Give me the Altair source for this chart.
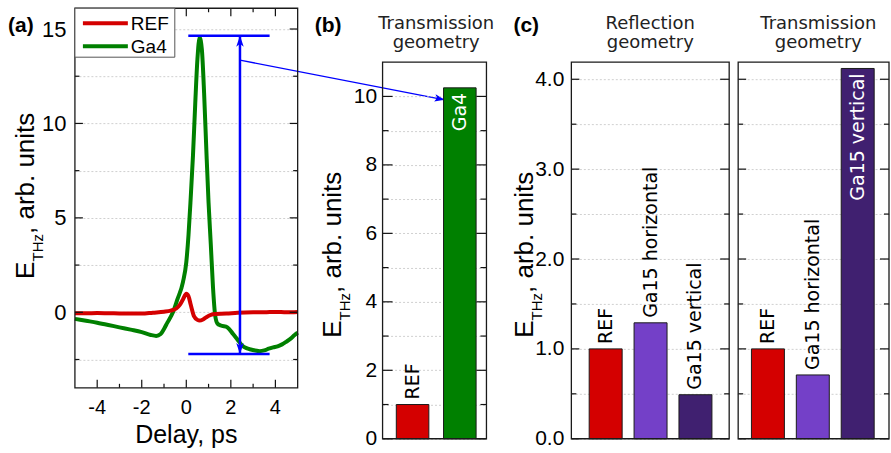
import math
import altair as alt
import pandas as pd

# ---------------- data ----------------
series_names = ["REF", "Ga4"]
series_colors = ["#d40000", "#008000"]

ref_delay = [-5.0, -4.5, -4.0, -3.5, -3.0, -2.5, -2.0, -1.5, -1.0, -0.7, -0.45, -0.3, -0.15,
             0.0, 0.1, 0.2, 0.35, 0.5, 0.6, 0.75, 0.9, 1.1, 1.3, 1.8, 2.3, 3.0, 3.5, 4.0, 4.5, 5.0]
ref_field = [-0.05, -0.05, -0.04, -0.05, -0.06, -0.07, -0.07, -0.02, 0.03, 0.09, 0.2, 0.38, 0.68,
             0.98, 0.85, 0.4, -0.22, -0.4, -0.44, -0.38, -0.26, -0.14, -0.09, -0.07, -0.02, 0.0, 0.0, 0.02, 0.0, 0.02]

ga4_delay = [-5.0, -4.5, -4.0, -3.5, -3.0, -2.5, -2.0, -1.6, -1.35, -1.15, -1.0, -0.85, -0.6, -0.4, -0.15,
             0.0, 0.1, 0.2, 0.3, 0.4, 0.5, 0.6, 0.7, 0.8, 0.9, 1.0, 1.1, 1.2, 1.3, 1.4, 1.55, 1.85,
             2.1, 2.3, 2.5, 2.7, 2.9, 3.1, 3.3, 3.5, 3.7, 3.9, 4.1, 4.3, 4.5, 4.7, 4.85, 5.0]
ga4_field = [-0.35, -0.45, -0.55, -0.67, -0.8, -0.92, -1.05, -1.2, -1.25, -1.15, -0.88, -0.55, 0.0, 0.68, 1.6,
             2.65, 4.1, 6.1, 8.3, 11.0, 13.4, 14.55, 13.9, 11.6, 8.6, 5.8, 3.6, 1.3, -0.2, -0.6, -0.7, -0.8,
             -1.15, -1.45, -1.75, -1.9, -1.97, -2.02, -2.06, -2.02, -1.93, -1.86, -1.8, -1.7, -1.55, -1.38, -1.22, -1.08]

# peak-to-peak bracket and connector in panel (a)
bracket_top = 14.64
bracket_bottom = -2.21
bracket_from = 0.09
bracket_to = 3.74
bracket_arrow_at = 2.41
connector_start = [2.41, 13.35]
connector_end = [11.6, 11.25]

b_categories = ["REF", "Ga4"]
b_values = [1.0, 10.25]
b_colors = ["#d40000", "#008000"]

c_groups = ["Reflection", "Transmission"]
c_categories = ["REF", "Ga15 horizontal", "Ga15 vertical"]
c_colors = ["#d40000", "#7440c8", "#402070"]
c_reflection = [1.0, 1.29, 0.49]
c_transmission = [1.0, 0.71, 4.12]

a_y_major = [0, 5, 10, 15]
a_y_minor = [-2.5, 2.5, 7.5, 12.5]
a_x_major = [-4, -2, 0, 2, 4]
a_x_minor = [-3, -1, 1, 3]
b_y_major = [0, 2, 4, 6, 8, 10]
b_y_minor = [1, 3, 5, 7, 9]
c_y_major = [0, 1, 2, 3, 4]
c_y_minor = [0.5, 1.5, 2.5, 3.5]

# ---------------- style / layout ----------------
NUM = "Liberation Sans"
TXT = "DejaVu Sans"
BLUE = "#0000ff"
TICK = "#111111"
FRAME = "#1a1a1a"
TOP = 54                      # vertical offset of panels (b), (c)
VIEW_H = TOP + 377            # common view height of all panels
A_W, A_H = 223, 380
B_W = 104
C1_W, C_GAP, C2_W = 158, 9, 151
C_W = C1_W + C_GAP + C2_W
C_STEP = 46.4                 # px between bar centres in (c)
C_FIRST = 30.3                # px from frame to first bar centre

ONE = pd.DataFrame({"k": [0]})

UP_HEAD = "M0,0L0.75,2.2L0,1.6L-0.75,2.2Z"
DOWN_HEAD = "M0,0L0.75,-2.2L0,-1.6L-0.75,-2.2Z"
RIGHT_HEAD = "M0,0L-2,-0.75L-1.6,0L-2,0.75Z"


def text(txt, x, y, size, font=NUM, weight="normal", angle=0, align="left",
         baseline="alphabetic", color="black", line_height=None):
    kw = dict(text=txt, font=font, fontSize=size, fontWeight=weight, angle=angle,
              align=align, baseline=baseline, color=color)
    if line_height:
        kw["lineHeight"] = line_height
    return alt.Chart(ONE).mark_text(**kw).encode(x=alt.value(x), y=alt.value(y))


def ytitle(x, y_start):
    return [
        text("E", x, y_start, 26, angle=270),
        text("THz", x + 9, y_start - 17.5, 15, angle=270),
        text(", arb. units", x, y_start - 45, 26, angle=270),
    ]


def frame(x0, x1, y0, y1):
    return alt.Chart(ONE).mark_rect(fill="white", fillOpacity=0, stroke=FRAME,
                                    strokeWidth=1.3).encode(
        x=alt.value(x0), x2=alt.value(x1), y=alt.value(y0), y2=alt.value(y1))


def label_axis(values, major, size, pad):
    arr = "[" + ",".join(str(v) for v in major) + "]"
    return alt.Axis(orient="left", values=values, title=None, domain=False, ticks=False,
                    tickSize=0, labels=True, grid=True, labelFont=NUM, labelFontSize=size,
                    labelColor="black", labelPadding=pad, labelFlush=False, labelOverlap=False,
                    labelExpr=f"indexof({arr}, datum.value) >= 0 ? datum.label : ''",
                    gridColor="#c4c4c4", gridDash=[2, 2], gridWidth=0.8)


def yticks(values, scale, x0, x1):
    df = pd.DataFrame({"val": values})
    return alt.Chart(df).mark_rule(color=TICK, strokeWidth=1.2).encode(
        y=alt.Y("val:Q", scale=scale, axis=None), x=alt.value(x0), x2=alt.value(x1))


def xticks(values, scale, y0, y1):
    df = pd.DataFrame({"t": values})
    return alt.Chart(df).mark_rule(color=TICK, strokeWidth=1.2).encode(
        x=alt.X("t:Q", scale=scale, axis=None), y=alt.value(y0), y2=alt.value(y1))


# ---------------- panel (a) ----------------
XA = alt.Scale(domain=[-5, 5], nice=False, zero=False)
YA = alt.Scale(domain=[-4, 16.1], range=[A_H, 0], nice=False, zero=False)

a_layers = [
    alt.Chart(pd.DataFrame({"v": [0.0]})).mark_point(opacity=0).encode(
        y=alt.Y("v:Q", scale=YA, axis=label_axis(sorted(a_y_major + a_y_minor), a_y_major, 22, 9))),
]

color_a = alt.Scale(domain=series_names, range=series_colors)


def curve(delay, field, name):
    df = pd.DataFrame({"t": delay, "v": field, "s": name})
    return alt.Chart(df).mark_line(strokeWidth=4, interpolate="monotone").encode(
        x=alt.X("t:Q", scale=XA, axis=None),
        y=alt.Y("v:Q", scale=YA, axis=None),
        color=alt.Color("s:N", scale=color_a, legend=None))


a_layers.append(curve(ga4_delay, ga4_field, series_names[1]))
a_layers.append(curve(ref_delay, ref_field, series_names[0]))

seg_rows = [
    {"seg": "top", "t": bracket_from, "v": bracket_top},
    {"seg": "top", "t": bracket_to, "v": bracket_top},
    {"seg": "bottom", "t": bracket_from, "v": bracket_bottom},
    {"seg": "bottom", "t": bracket_to, "v": bracket_bottom},
    {"seg": "vert", "t": bracket_arrow_at, "v": bracket_bottom},
    {"seg": "vert", "t": bracket_arrow_at, "v": bracket_top},
]
a_layers.append(alt.Chart(pd.DataFrame(seg_rows)).mark_line(color=BLUE, strokeWidth=2.5).encode(
    x=alt.X("t:Q", scale=XA, axis=None), y=alt.Y("v:Q", scale=YA, axis=None),
    detail="seg:N"))

for yv, shp in [(bracket_top, UP_HEAD), (bracket_bottom, DOWN_HEAD)]:
    dfh = pd.DataFrame({"t": [bracket_arrow_at], "v": [yv]})
    a_layers.append(alt.Chart(dfh).mark_point(shape=shp, size=100, filled=True, color=BLUE,
                                              opacity=1, strokeWidth=0).encode(
        x=alt.X("t:Q", scale=XA, axis=None), y=alt.Y("v:Q", scale=YA, axis=None)))

df_conn = pd.DataFrame({"t": [connector_start[0], connector_end[0]],
                        "v": [connector_start[1], connector_end[1]]})
a_layers.append(alt.Chart(df_conn).mark_line(color=BLUE, strokeWidth=1.3).encode(
    x=alt.X("t:Q", scale=XA, axis=None), y=alt.Y("v:Q", scale=YA, axis=None)))
px_x = A_W / 10.0
px_y = A_H / 20.1
conn_angle = math.degrees(math.atan2((connector_start[1] - connector_end[1]) * px_y,
                                     (connector_end[0] - connector_start[0]) * px_x))
df_tip = pd.DataFrame({"t": [connector_end[0]], "v": [connector_end[1]]})
a_layers.append(alt.Chart(df_tip).mark_point(shape=RIGHT_HEAD, angle=conn_angle, size=100,
                                             filled=True, color=BLUE, opacity=1,
                                             strokeWidth=0).encode(
    x=alt.X("t:Q", scale=XA, axis=None), y=alt.Y("v:Q", scale=YA, axis=None)))

# inward ticks on all four sides
a_layers += [
    yticks(a_y_major, YA, 0, 8), yticks(a_y_minor, YA, 0, 4.5),
    yticks(a_y_major, YA, A_W - 8, A_W), yticks(a_y_minor, YA, A_W - 4.5, A_W),
    xticks(a_x_major, XA, A_H - 8, A_H), xticks(a_x_minor, XA, A_H - 4, A_H),
    xticks(a_x_major, XA, 0, 8), xticks(a_x_minor, XA, 0, 4),
]
# x tick labels
a_layers.append(alt.Chart(pd.DataFrame({"t": a_x_major, "lab": [str(v) for v in a_x_major]}))
                .mark_text(font=NUM, fontSize=20, align="center", baseline="top", color="black")
                .encode(x=alt.X("t:Q", scale=XA, axis=None), y=alt.value(A_H + 10), text="lab:N"))
a_layers.append(frame(0, A_W, 0, A_H))

# legend (boxed key)
a_layers.append(alt.Chart(ONE).mark_rect(fill="white", stroke="#555555", strokeWidth=1).encode(
    x=alt.value(0), x2=alt.value(100), y=alt.value(0), y2=alt.value(49)))
for i, (nm, colr) in enumerate(zip(series_names, series_colors)):
    a_layers.append(alt.Chart(ONE).mark_rule(color=colr, strokeWidth=4).encode(
        x=alt.value(8), x2=alt.value(53), y=alt.value(15 + 23 * i)))
    a_layers.append(text(nm, 56, 22 + 23 * i, 19))

a_layers.append(text("Delay, ps", A_W / 2, 435, 25, align="center"))
a_layers.append(text("(a)", -67, 24, 21, weight="bold"))
a_layers += ytitle(-41, 271)

panel_a = alt.layer(*a_layers).properties(width=A_W, height=VIEW_H).resolve_axis(y="independent")

# ---------------- panel (b) ----------------
YB = alt.Scale(domain=[0, 11], range=[VIEW_H, TOP], nice=False, zero=True)
XB = alt.Scale(domain=b_categories, paddingInner=0.311, paddingOuter=0.255, align=0.57)
df_b = pd.DataFrame({"bcat": b_categories, "val": b_values})

b_layers = [
    alt.Chart(pd.DataFrame({"val": [0.0]})).mark_point(opacity=0).encode(
        y=alt.Y("val:Q", scale=YB, axis=label_axis(sorted(b_y_major + b_y_minor), b_y_major, 21, 6))),
]
bx = alt.X("bcat:N", scale=XB, axis=None)
by = alt.Y("val:Q", scale=YB, axis=None)
b_thr = 0.8 * 11
b_layers.append(alt.Chart(df_b).mark_bar(stroke=FRAME, strokeWidth=1).encode(
    x=bx, y=by,
    color=alt.Color("bcat:N", scale=alt.Scale(domain=b_categories, range=b_colors), legend=None)))
b_layers.append(alt.Chart(df_b).transform_filter(f"datum.val <= {b_thr}").mark_text(
    angle=270, align="left", baseline="middle", dx=5, font=TXT, fontSize=19,
    color="black").encode(x=bx, y=by, text="bcat:N"))
b_layers.append(alt.Chart(df_b).transform_filter(f"datum.val > {b_thr}").mark_text(
    angle=270, align="right", baseline="middle", dx=-5, font=TXT, fontSize=19,
    color="white").encode(x=bx, y=by, text="bcat:N"))
b_layers += [
    yticks(b_y_major, YB, 0, 10), yticks(b_y_minor, YB, 0, 6),
    yticks(b_y_major, YB, B_W - 10, B_W), yticks(b_y_minor, YB, B_W - 6, B_W),
]
b_layers.append(frame(0, B_W, TOP, VIEW_H))
b_layers.append(text(["Transmission", "geometry"], 53.7, TOP - 33, 18, font=TXT,
                     align="center", color="#222222", line_height=19))
b_layers.append(text("(b)", -68, TOP - 30, 21, weight="bold"))
b_layers += ytitle(-41.3, TOP + 276)

panel_b = alt.layer(*b_layers).properties(width=B_W, height=VIEW_H).resolve_axis(y="independent")

# ---------------- panel (c) ----------------
c_rows = []
for g, vals in zip(c_groups, [c_reflection, c_transmission]):
    for i, (cat, v) in enumerate(zip(c_categories, vals)):
        c_rows.append({"geometry": g, "ccat": cat, "idx": i, "val": v})
df_c = pd.DataFrame(c_rows)

g_shift = (C1_W + C_GAP + 31 - C_FIRST) / C_STEP
x_lo = -C_FIRST / C_STEP
XC = alt.Scale(domain=[x_lo, x_lo + C_W / C_STEP], nice=False, zero=False)
YC = alt.Scale(domain=[0, 4.19], range=[VIEW_H, TOP], nice=False, zero=True)

c_layers = [
    alt.Chart(pd.DataFrame({"val": [0.0]})).mark_point(opacity=0).encode(
        y=alt.Y("val:Q", scale=YC, axis=label_axis(sorted(c_y_major + c_y_minor), c_y_major, 21, 7.5))),
]
c_base = alt.Chart(df_c).transform_calculate(
    slot=f"datum.idx + (datum.geometry == '{c_groups[1]}' ? {g_shift} : 0)")
cx = alt.X("slot:Q", scale=XC, axis=None)
cy = alt.Y("val:Q", scale=YC, axis=None)
c_thr = 0.8 * 4.19
c_layers.append(c_base.mark_bar(size=33, stroke=FRAME, strokeWidth=1).encode(
    x=cx, y=cy,
    color=alt.Color("ccat:N", scale=alt.Scale(domain=c_categories, range=c_colors), legend=None)))
c_layers.append(c_base.transform_filter(f"datum.val <= {c_thr}").mark_text(
    angle=270, align="left", baseline="middle", dx=5, font=TXT, fontSize=19,
    color="black").encode(x=cx, y=cy, text="ccat:N"))
c_layers.append(c_base.transform_filter(f"datum.val > {c_thr}").mark_text(
    angle=270, align="right", baseline="middle", dx=-5, font=TXT, fontSize=19,
    color="white").encode(x=cx, y=cy, text="ccat:N"))
# blank gap between the two sub-frames
c_layers.append(alt.Chart(ONE).mark_rect(fill="white").encode(
    x=alt.value(C1_W + 0.7), x2=alt.value(C1_W + C_GAP - 0.7), y=alt.value(TOP - 2),
    y2=alt.value(VIEW_H + 2)))
c2_x = C1_W + C_GAP
c_layers += [
    yticks(c_y_major, YC, 0, 8), yticks(c_y_minor, YC, 0, 5),
    yticks(c_y_major, YC, C1_W - 9, C1_W), yticks(c_y_minor, YC, C1_W - 5, C1_W),
    yticks(c_y_major, YC, c2_x, c2_x + 8), yticks(c_y_minor, YC, c2_x, c2_x + 5),
    yticks(c_y_major, YC, C_W - 9, C_W), yticks(c_y_minor, YC, C_W - 5, C_W),
]
c_layers.append(frame(0, C1_W, TOP, VIEW_H))
c_layers.append(frame(c2_x, C_W, TOP, VIEW_H))
c_layers.append(text([c_groups[0], "geometry"], 79, TOP - 33, 18, font=TXT,
                     align="center", color="#222222", line_height=19))
c_layers.append(text([c_groups[1], "geometry"], c2_x + 80.3, TOP - 33, 18, font=TXT,
                     align="center", color="#222222", line_height=19))
c_layers.append(text("(c)", -58, TOP - 30, 21, weight="bold"))
c_layers += ytitle(-38, TOP + 276)

panel_c = alt.layer(*c_layers).properties(width=C_W, height=VIEW_H).resolve_axis(y="independent")

chart = alt.hconcat(panel_a, panel_b, panel_c, spacing=85, bounds="flush").resolve_scale(
    color="independent"
).properties(
    padding={"left": 7, "top": 6, "right": 0, "bottom": 0},
).configure_view(stroke="transparent")

chart.save("out.html", embed_options={"renderer": "svg", "actions": False})
